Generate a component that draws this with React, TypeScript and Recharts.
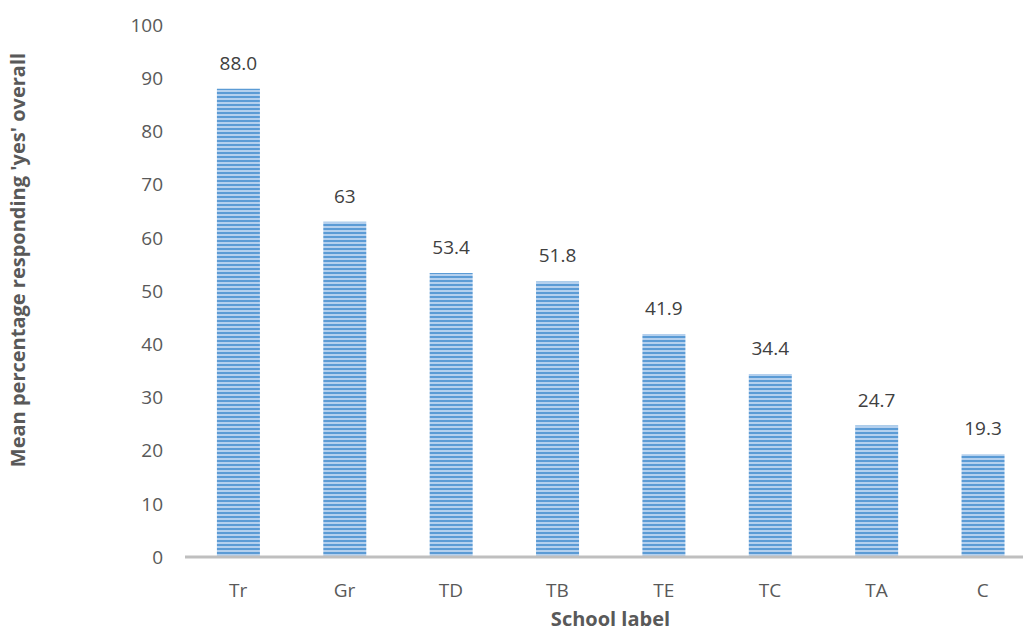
import React from 'react';
import { BarChart, Bar, XAxis, YAxis, LabelList } from 'recharts';

const schools = ['Tr', 'Gr', 'TD', 'TB', 'TE', 'TC', 'TA', 'C'];
const meanYes = [88.0, 63, 53.4, 51.8, 41.9, 34.4, 24.7, 19.3];
const valueLabels = ['88.0', '63', '53.4', '51.8', '41.9', '34.4', '24.7', '19.3'];
const yTicks = [0, 10, 20, 30, 40, 50, 60, 70, 80, 90, 100];

const data = schools.map((s, i) => ({ school: s, value: meanYes[i], label: valueLabels[i] }));

const FONT = '"Open Sans", "Liberation Sans", sans-serif';
const TEXT = '#595959';

export default function App() {
  return (
    <div style={{ position: 'absolute', left: 0, top: 0, width: 1023, height: 633, overflow: 'hidden', background: '#fff' }}>
      <svg width={0} height={0} style={{ position: 'absolute' }}>
        <defs>
          <pattern id="hstripes" width={8} height={4} patternUnits="userSpaceOnUse">
            <rect x={0} y={0} width={8} height={4} fill="#b4d0ee" />
            <rect x={0} y={0} width={8} height={2} fill="#5b9bd5" />
          </pattern>
        </defs>
      </svg>
      <BarChart
        width={1036}
        height={633}
        data={data}
        margin={{ top: 25, right: 0, bottom: 31, left: 0 }}
        barCategoryGap="30%"
      >
        <XAxis
          dataKey="school"
          height={45}
          tickLine={false}
          axisLine={{ stroke: '#bfbfbf', strokeWidth: 3 }}
          tick={{ fill: TEXT, fontSize: 19, fontFamily: FONT }}
          tickMargin={21}
          label={{
            value: 'School label',
            position: 'bottom',
            offset: 10,
            style: { fill: TEXT, fontSize: 20, fontWeight: 700, fontFamily: FONT },
          }}
        />
        <YAxis
          width={185}
          domain={[0, 100]}
          ticks={yTicks}
          interval={0}
          axisLine={false}
          tickLine={false}
          tickSize={0}
          tickMargin={22}
          tick={{ fill: TEXT, fontSize: 19, fontFamily: FONT }}
          label={{
            content: () => (
              <text
                x={0}
                y={0}
                transform="translate(25, 260) rotate(-90)"
                textAnchor="middle"
                fill={TEXT}
                fontSize={20}
                fontWeight={700}
                fontFamily={FONT}
              >
                Mean percentage responding 'yes' overall
              </text>
            ),
          }}
        />
        <Bar dataKey="value" fill="url(#hstripes)" isAnimationActive={false}>
          <LabelList
            dataKey="label"
            position="top"
            offset={19}
            style={{ fill: '#404040', fontSize: 19, fontFamily: FONT }}
          />
        </Bar>
      </BarChart>
    </div>
  );
}
